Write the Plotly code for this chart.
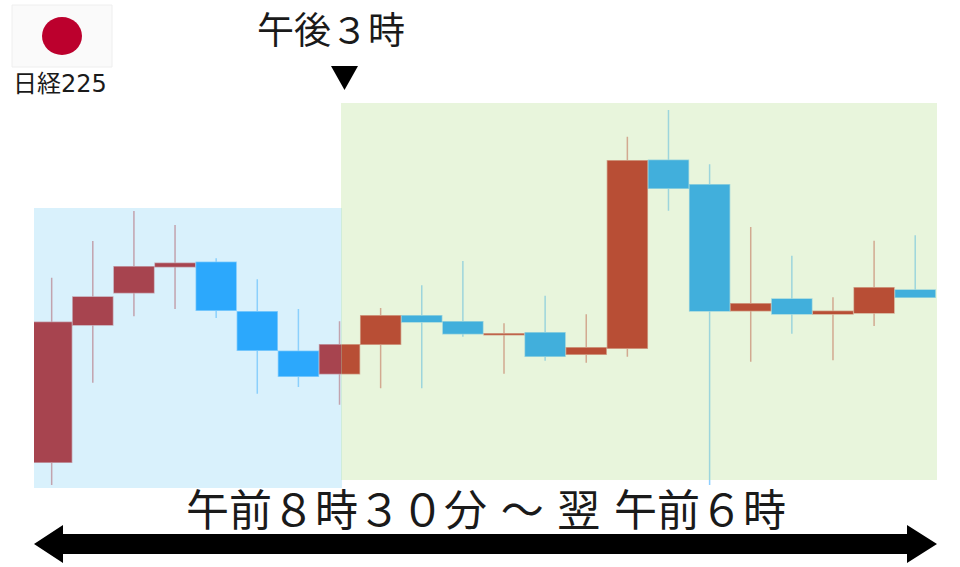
import plotly.graph_objects as go

W, H = 960, 567
LEFT, RIGHT, TOP, BOTTOM = 34, 937, 100, 490

# one candle per session step, prices on an arbitrary scale
session = list(range(22))
open_ = [37.7, 175.0, 207.3, 233.3, 237.7, 188.3, 148.7, 126.3, 155.7, 184.3, 178.3,
         165.3, 167.3, 145.7, 151.7, 339.7, 315.3, 189.3, 201.0, 186.0, 187.0, 210.0]
close = [177.7, 203.0, 233.3, 236.7, 189.7, 149.7, 123.7, 155.3, 184.3, 178.0, 166.3,
         166.3, 143.7, 152.3, 339.3, 311.7, 189.0, 196.3, 186.0, 188.7, 212.3, 202.7]
high = [222.3, 259.0, 289.0, 275.0, 241.7, 220.7, 191.0, 178.7, 192.0, 214.7, 239.0,
        176.7, 204.3, 185.7, 363.3, 390.0, 335.7, 273.0, 244.3, 202.7, 259.3, 264.7]
low = [15.0, 117.3, 183.7, 191.0, 182.0, 106.3, 113.0, 95.3, 111.7, 111.7, 163.3,
       126.3, 139.3, 137.3, 143.3, 289.3, 15.0, 138.3, 166.3, 139.7, 174.0, 202.7]

RED = "rgb(182,0,0)"
BLUE = "rgb(0,148,255)"


def px(x):
    return (x - LEFT) / (RIGHT - LEFT)


def py(y):
    return (BOTTOM - y) / (BOTTOM - TOP)


def rect(x0, y0, x1, y1, **kw):
    return dict(type="rect", xref="paper", yref="paper", x0=px(x0), x1=px(x1),
                y0=py(y0), y1=py(y1), **kw)


def poly(points, color):
    path = "M" + " L".join(f"{px(x):.5f},{py(y):.5f}" for x, y in points) + " Z"
    return dict(type="path", xref="paper", yref="paper", path=path,
                fillcolor=color, line=dict(width=0), layer="above")


def label(text, x, y, size):
    return dict(text=text, xref="paper", yref="paper", x=px(x), y=py(y),
                showarrow=False, xanchor="center", yanchor="middle",
                font=dict(size=size, color="#1a1a1a",
                          family="DejaVu Sans, Noto Sans CJK JP"))


fig = go.Figure(
    go.Candlestick(
        x=session,
        open=open_,
        high=high,
        low=low,
        close=close,
        increasing=dict(fillcolor=RED, line=dict(color="rgba(182,0,0,0.45)", width=1.5)),
        decreasing=dict(fillcolor=BLUE, line=dict(color="rgba(0,148,255,0.45)", width=1.5)),
        hoverinfo="skip",
    )
)

shapes = [
    # tinted session panels sit on top of the candles
    rect(34, 208, 342, 488, fillcolor="rgba(136,211,245,0.32)", line_width=0, layer="above"),
    rect(341, 103, 937, 480, fillcolor="rgba(188,226,154,0.345)", line_width=0, layer="above"),
    # flag
    rect(12, 5, 112, 67, fillcolor="#FAFAFA", line=dict(color="#EEEEEE", width=1), layer="above"),
    dict(type="circle", xref="paper", yref="paper", x0=px(42), x1=px(82), y0=py(17), y1=py(55),
         fillcolor="#BC002D", line_width=0, layer="above"),
    # marker under the 3pm label
    poly([(331, 66), (358, 66), (344.5, 90)], "black"),
    # double headed arrow
    poly([(34, 544), (63, 525), (63, 534), (907, 534), (907, 525), (937, 544),
          (907, 563), (907, 554), (63, 554), (63, 563)], "black"),
]

fig.update_layout(
    width=W,
    height=H,
    autosize=False,
    margin=dict(l=LEFT, r=W - RIGHT, t=TOP, b=H - BOTTOM, pad=0),
    paper_bgcolor="white",
    plot_bgcolor="white",
    showlegend=False,
    boxgap=0.03,
    boxgroupgap=0,
    shapes=shapes,
    annotations=[
        label("日経225", 60, 84, 24),
        label("午後３時", 331, 32, 37),
        label("午前８時３０分 ～ 翌 午前６時", 486, 511, 43),
    ],
    xaxis=dict(range=[-0.4300, 21.5300], visible=False, rangeslider=dict(visible=False)),
    yaxis=dict(range=[10, 400], visible=False),
)

# the page's default body margin would push the figure off by 8px
fig.write_html(
    "out.html",
    config=dict(displayModeBar=False),
    post_script="document.body.style.margin='0';",
)
